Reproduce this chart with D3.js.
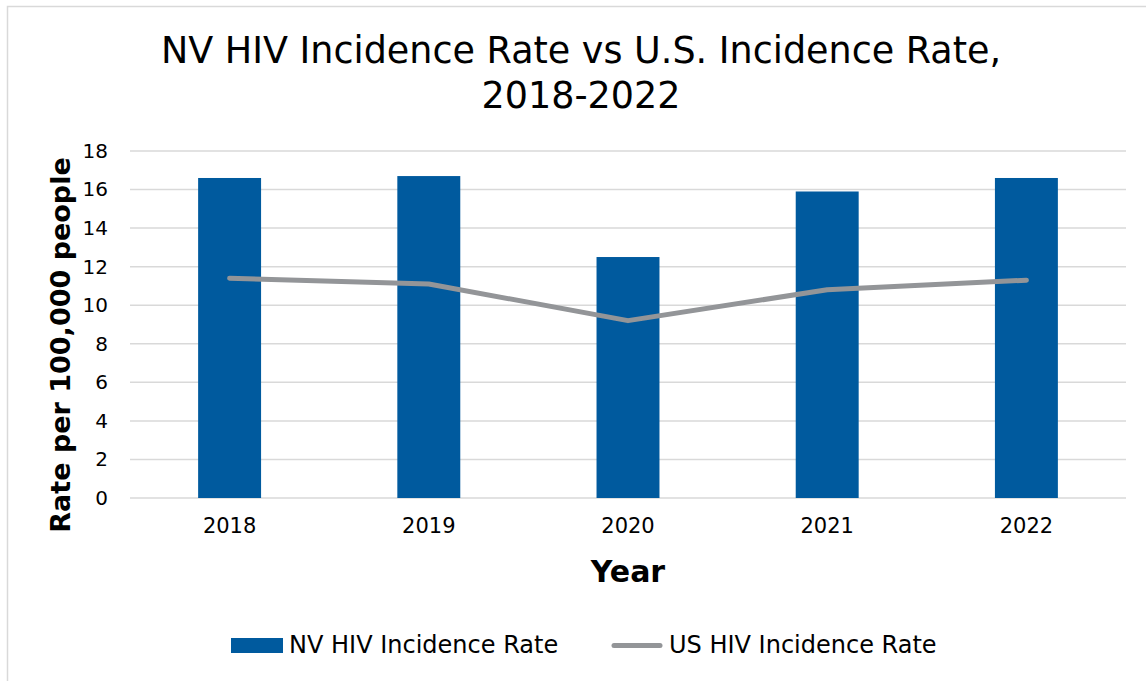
<!DOCTYPE html>
<html>
<head>
<meta charset="utf-8">
<script src="https://cdn.jsdelivr.net/npm/d3@7"></script>
<style>
  body { margin: 0; background: #fff; }
  svg text { font-family: "DejaVu Sans", sans-serif; fill: #000; }
</style>
</head>
<body>
<div id="chart"></div>
<script>
// data
var years = ["2018", "2019", "2020", "2021", "2022"];
var nvRate = [16.6, 16.7, 12.5, 15.9, 16.6];
var usRate = [11.4, 11.1, 9.2, 10.8, 11.3];
var yTicks = [0, 2, 4, 6, 8, 10, 12, 14, 16, 18];

var width = 1146,
    height = 681;

var margin = {top: 151, right: 20, bottom: 183, left: 130};
var plotW = 1126 - margin.left,
    plotH = 498 - margin.top;

var barColour = "#005a9e",
    lineColour = "#939598";

var svg = d3.select("#chart")
    .append("svg")
    .attr("width", width)
    .attr("height", height);

// outer frame
svg.append("rect")
    .attr("x", 7.5).attr("y", 6.5)
    .attr("width", 1146).attr("height", 690)
    .attr("fill", "none")
    .attr("stroke", "#d9d9d9")
    .attr("stroke-width", 1.5);

// title
var title = svg.append("text")
    .attr("text-anchor", "middle")
    .style("font-size", "36.5px");
title.append("tspan").attr("x", 581).attr("y", 63).text("NV HIV Incidence Rate vs U.S. Incidence Rate,");
title.append("tspan").attr("x", 581).attr("y", 108).text("2018-2022");

var g = svg.append("g")
    .attr("transform", "translate(" + margin.left + "," + margin.top + ")");

var x = d3.scaleBand()
    .domain(years)
    .range([0, plotW])
    .paddingInner(0.684)
    .paddingOuter(0.342);

var y = d3.scaleLinear()
    .domain([0, 18])
    .range([plotH, 0]);

// gridlines
g.selectAll(".grid")
    .data(yTicks)
    .enter().append("line")
    .attr("class", "grid")
    .attr("x1", 0).attr("x2", plotW)
    .attr("y1", function(d) { return y(d) })
    .attr("y2", function(d) { return y(d) })
    .attr("stroke", "#d9d9d9")
    .attr("stroke-width", 1.5);

// y axis labels
var yAxis = d3.axisLeft(y).tickValues(yTicks).tickSize(0).tickPadding(22);
g.append("g")
    .call(yAxis)
    .call(function(a) { a.select(".domain").remove() })
    .selectAll("text")
    .style("font-size", "20px")
    .style("font-family", "'DejaVu Sans', sans-serif");

// bars
g.selectAll(".bar")
    .data(nvRate)
    .enter().append("rect")
    .attr("class", "bar")
    .attr("x", function(d, i) { return x(years[i]) })
    .attr("width", x.bandwidth())
    .attr("y", function(d) { return y(d) })
    .attr("height", function(d) { return plotH - y(d) })
    .attr("fill", barColour);

// US line
var line = d3.line()
    .x(function(d, i) { return x(years[i]) + x.bandwidth() / 2 })
    .y(function(d) { return y(d) });

g.append("path")
    .datum(usRate)
    .attr("d", line)
    .attr("fill", "none")
    .attr("stroke", lineColour)
    .attr("stroke-width", 5)
    .attr("stroke-linecap", "round")
    .attr("stroke-linejoin", "round");

// x axis labels
var xAxis = d3.axisBottom(x).tickSize(0).tickPadding(20);
g.append("g")
    .attr("transform", "translate(0," + plotH + ")")
    .call(xAxis)
    .call(function(a) { a.select(".domain").remove() })
    .selectAll("text")
    .style("font-size", "21px")
    .style("font-family", "'DejaVu Sans', sans-serif");

// axis titles
svg.append("text")
    .attr("x", 628).attr("y", 582)
    .attr("text-anchor", "middle")
    .style("font-size", "30px")
    .style("font-weight", "bold")
    .text("Year");

svg.append("text")
    .attr("transform", "translate(70,345) rotate(-90)")
    .attr("text-anchor", "middle")
    .style("font-size", "27px")
    .style("font-weight", "bold")
    .text("Rate per 100,000 people");

// legend
var legend = svg.append("g");
legend.append("rect")
    .attr("x", 231).attr("y", 638)
    .attr("width", 52).attr("height", 15)
    .attr("fill", barColour);
legend.append("text")
    .attr("x", 289).attr("y", 653)
    .style("font-size", "24px")
    .text("NV HIV Incidence Rate");
legend.append("line")
    .attr("x1", 614).attr("x2", 660)
    .attr("y1", 645.5).attr("y2", 645.5)
    .attr("stroke", lineColour)
    .attr("stroke-width", 5)
    .attr("stroke-linecap", "round");
legend.append("text")
    .attr("x", 669).attr("y", 653)
    .style("font-size", "24px")
    .text("US HIV Incidence Rate");
</script>
</body>
</html>
